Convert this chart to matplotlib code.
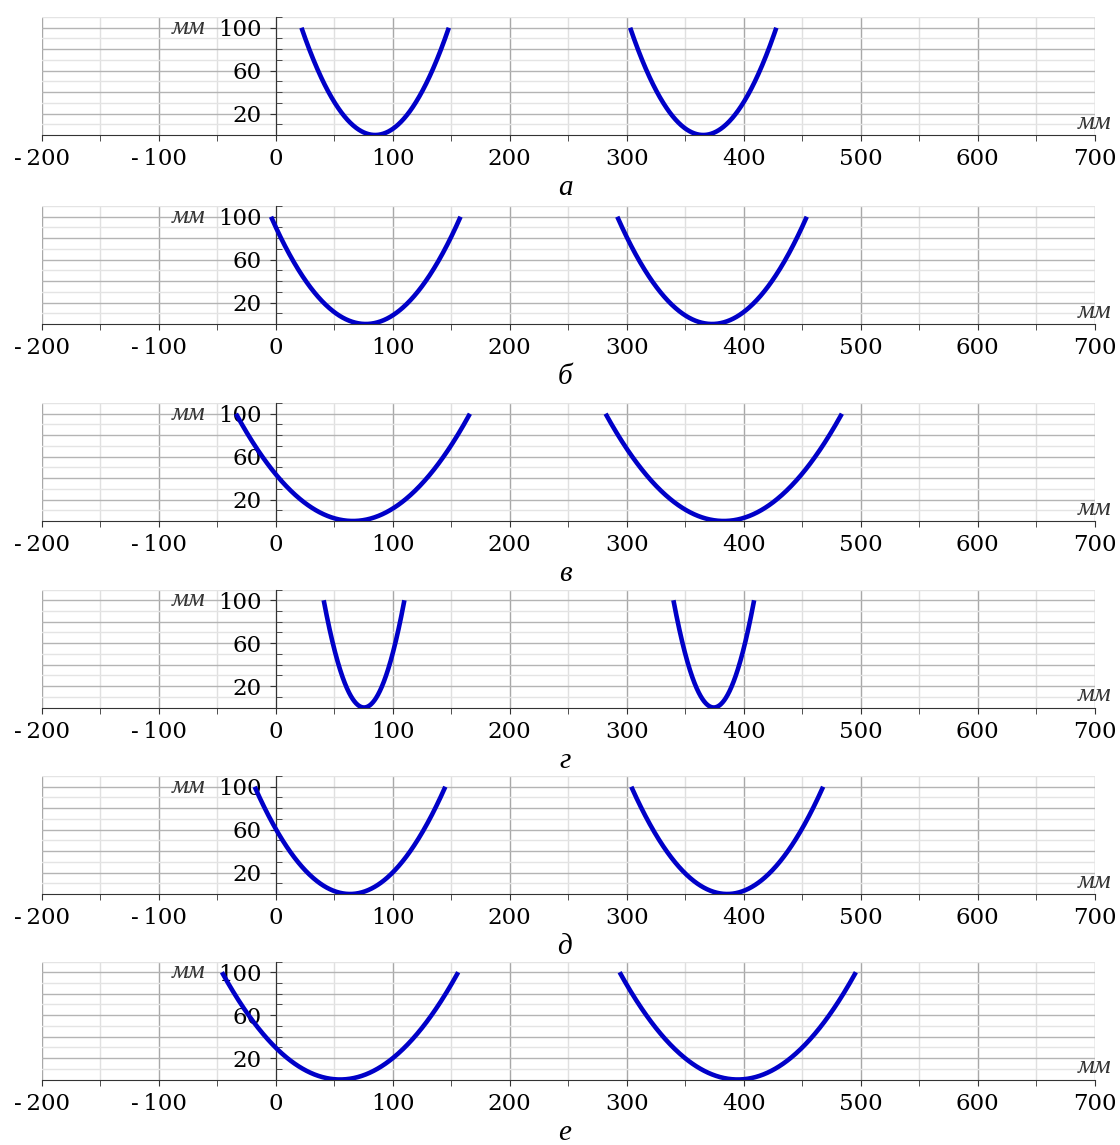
import numpy as np
import matplotlib.pyplot as plt
from matplotlib.ticker import FixedLocator, MultipleLocator, FuncFormatter

plt.rcParams['font.family'] = ['DejaVu Serif']

panel_letters = ['а', 'б', 'в', 'г', 'д', 'е']

# x (mm) where each parabola leaves the top line y = 100 mm
left_start = [22, -4, -34, 41, -18, -46]
left_end = [148, 158, 166, 110, 145, 156]
right_start = [303, 292, 282, 340, 304, 294]
right_end = [428, 454, 484, 409, 468, 496]
y_top = 100

x_ticks = [-200, -100, 0, 100, 200, 300, 400, 500, 600, 700]
y_ticks = [20, 60, 100]

# layout in pixels
W, H = 1120, 1145
ax_left, ax_right = 41.8, 1094.5
axis_row = [135, 324, 521, 707.5, 894, 1079.5]
panel_h = 118


def parabola(x0, x1):
    x = np.linspace(x0, x1, 300)
    c = (x0 + x1) / 2
    h = (x1 - x0) / 2
    return x, y_top * ((x - c) / h) ** 2


def fmt(v, pos):
    # short minus with a thin gap, like the original
    return f'{int(v)}'.replace('-', '-\u2009')


fig = plt.figure(figsize=(W / 100, H / 100), dpi=100)

for i in range(6):
    ax = fig.add_axes([ax_left / W, 1 - axis_row[i] / H,
                       (ax_right - ax_left) / W, panel_h / H])
    ax.set_xlim(-200, 700)
    ax.set_ylim(0, 110)

    # grid
    for g in np.arange(-200, 701, 50):
        ax.axvline(g, color='#a8a8a8' if g % 100 == 0 else '#e0e0e0', lw=1, zorder=0)
    for g in np.arange(10, 111, 10):
        ax.axhline(g, color='#b4b4b4' if g % 20 == 0 else '#e4e4e4', lw=1, zorder=0)

    for x0, x1 in [(left_start[i], left_end[i]), (right_start[i], right_end[i])]:
        x, y = parabola(x0, x1)
        ax.plot(x, y, color='#0000c8', lw=3.3, solid_capstyle='butt', zorder=3)

    for s in ['top', 'right']:
        ax.spines[s].set_visible(False)
    ax.spines['left'].set_position(('data', 0))
    ax.spines['left'].set_color('#333333')
    ax.spines['bottom'].set_color('#333333')

    ax.xaxis.set_major_locator(FixedLocator(x_ticks))
    ax.xaxis.set_minor_locator(MultipleLocator(50))
    ax.xaxis.set_major_formatter(FuncFormatter(fmt))
    ax.yaxis.set_major_locator(FixedLocator(y_ticks))
    ax.yaxis.set_minor_locator(MultipleLocator(10))
    ax.tick_params(axis='x', which='major', direction='out', length=4.5, pad=5,
                   labelsize=16.5, color='#333333')
    ax.tick_params(axis='x', which='minor', direction='out', length=4, color='#333333')
    ax.tick_params(axis='y', which='major', direction='out', length=4, pad=6,
                   labelsize=16.5, color='#333333')
    ax.tick_params(axis='y', which='minor', direction='in', length=4, color='#333333')

    ax.text(-60, 100, 'мм', ha='right', va='center', fontsize=19,
            family='Liberation Serif', style='italic', color='#333333')
    ax.text(700, 1, 'мм', ha='center', va='bottom', fontsize=19,
            family='Liberation Serif', style='italic', color='#333333')
    ax.text(0.497, -53 / panel_h, panel_letters[i], transform=ax.transAxes,
            ha='center', va='center', fontsize=21,
            family='Liberation Serif', style='italic')

fig.savefig('out.png', dpi=100)
